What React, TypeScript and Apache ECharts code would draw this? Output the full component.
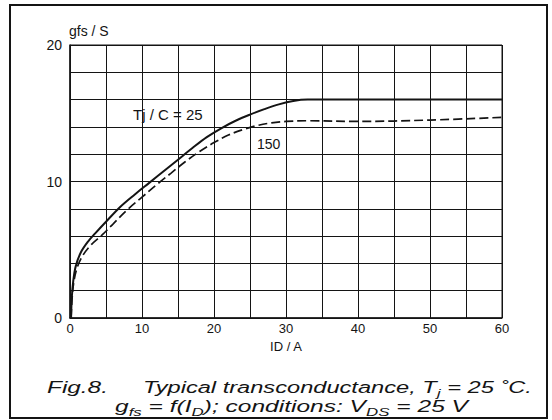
import React, { useEffect, useRef } from "react";
import * as echarts from "echarts";

// Drain current I_D (A) and forward transconductance g_fs (S)
const id25 = [0.15, 0.25, 0.45, 0.8, 1.5, 2.5, 3.5, 5, 7, 9, 11, 13, 15, 17, 19, 21, 23, 25, 27, 29, 31, 33, 36, 45, 60];
const gfs25 = [0, 1.5, 2.7, 3.8, 4.8, 5.6, 6.2, 7.05, 8.15, 9.05, 9.9, 10.75, 11.6, 12.45, 13.25, 13.9, 14.45, 14.9, 15.3, 15.65, 15.9, 16.0, 16.0, 16.0, 16.0];
const id150 = [0.15, 0.3, 0.55, 1.0, 1.8, 3, 4.5, 6, 8, 10, 12, 14, 16, 18, 20, 22, 24, 26, 28, 30, 33, 40, 50, 60];
const gfs150 = [0, 1.5, 2.7, 3.7, 4.6, 5.4, 6.1, 6.9, 7.95, 8.85, 9.75, 10.6, 11.45, 12.2, 12.85, 13.4, 13.8, 14.1, 14.3, 14.4, 14.45, 14.4, 14.5, 14.7];

const xTickLabels = ["0", "10", "20", "30", "40", "50", "60"];
const yTickLabels = ["0", "10", "20"];

const FONT = "Liberation Sans, Arial, Helvetica, sans-serif";
const INK = "#141414";

type Seg = { t: string; sub?: boolean };

const measureCtx = (() => {
  const c = document.createElement("canvas");
  return c.getContext("2d");
})();

function measure(text: string, size: number) {
  if (!measureCtx) return text.length * size * 0.5;
  measureCtx.font = `italic ${size}px "Liberation Sans", Arial, sans-serif`;
  return measureCtx.measureText(text).width;
}

function captionGroup(segs: Seg[], left: number, right: number, y: number) {
  let cursor = 0;
  const children: any[] = [];
  for (const s of segs) {
    const size = s.sub ? 11 : 16;
    children.push({
      type: "text",
      x: cursor,
      y: s.sub ? 6 : 0,
      style: {
        text: s.t,
        fontSize: size,
        fontStyle: "italic",
        fontFamily: FONT,
        fill: INK,
        textAlign: "left",
        textVerticalAlign: "middle",
      },
    });
    cursor += measure(s.t, size);
  }
  return { type: "group", x: left, y, scaleX: (right - left) / cursor, children };
}

export default function App() {
  const ref = useRef<HTMLDivElement>(null);
  useEffect(() => {
    document.body.style.margin = "0";
    if (!ref.current) return;
    const chart = echarts.init(ref.current, null, { renderer: "svg" });
    const zip = (xs: number[], ys: number[]) => xs.map((x, i) => [x, ys[i]]);
    chart.setOption({
      animation: false,
      backgroundColor: "#ffffff",
      grid: { left: 70, right: 50, top: 45, bottom: 102, show: true, borderColor: INK, borderWidth: 1 },
      xAxis: {
        type: "value",
        min: 0,
        max: 60,
        interval: 5,
        axisLine: { show: true, lineStyle: { color: INK, width: 1.5 } },
        axisTick: { show: false },
        splitLine: { show: true, lineStyle: { color: INK, width: 1 } },
        axisLabel: {
          margin: 4,
          fontSize: 13,
          fontFamily: FONT,
          color: INK,
          formatter: (v: number) => (xTickLabels.includes(String(v)) ? String(v) : ""),
        },
      },
      yAxis: {
        type: "value",
        min: 0,
        max: 20,
        interval: 2,
        axisLine: { show: true, lineStyle: { color: INK, width: 1.5 } },
        axisTick: { show: false },
        splitLine: { show: true, lineStyle: { color: INK, width: 1 } },
        axisLabel: {
          margin: 8,
          fontSize: 14,
          fontFamily: FONT,
          color: INK,
          formatter: (v: number) => (yTickLabels.includes(String(v)) ? String(v) : ""),
        },
      },
      series: [
        {
          name: "Tj = 25",
          type: "line",
          data: zip(id25, gfs25),
          showSymbol: false,
          symbol: "none",
          smooth: 0.35,
          lineStyle: { color: INK, width: 2 },
          z: 5,
        },
        {
          name: "Tj = 150",
          type: "line",
          data: zip(id150, gfs150),
          showSymbol: false,
          symbol: "none",
          smooth: 0.35,
          lineStyle: { color: INK, width: 1.7, type: [9, 4] },
          z: 5,
        },
      ],
      graphic: [
        {
          type: "rect",
          shape: { x: 10, y: 5, width: 537, height: 413 },
          style: { fill: "none", stroke: INK, lineWidth: 2 },
          silent: true,
        },
        {
          type: "text",
          x: 69,
          y: 31,
          style: { text: "gfs / S", fontSize: 14, fontFamily: FONT, fill: INK, textAlign: "left", textVerticalAlign: "middle" },
        },
        {
          type: "text",
          x: 286,
          y: 346,
          style: { text: "ID / A", fontSize: 13, fontFamily: FONT, fill: INK, textAlign: "center", textVerticalAlign: "middle" },
        },
        {
          type: "text",
          x: 133,
          y: 114,
          style: { text: "Tj / C = 25", fontSize: 15, fontFamily: FONT, fill: INK, textAlign: "left", textVerticalAlign: "middle" },
          z: 10,
        },
        {
          type: "text",
          x: 257,
          y: 144,
          style: { text: "150", fontSize: 14, fontFamily: FONT, fill: INK, textAlign: "left", textVerticalAlign: "middle" },
          z: 10,
        },
        captionGroup([{ t: "Fig.8." }], 47, 108, 387),
        captionGroup(
          [{ t: "Typical transconductance, T" }, { t: "j", sub: true }, { t: " = 25 ˚C." }],
          143,
          532,
          387
        ),
        captionGroup(
          [
            { t: "g" },
            { t: "fs", sub: true },
            { t: " = f(I" },
            { t: "D", sub: true },
            { t: "); conditions: V" },
            { t: "DS", sub: true },
            { t: " = 25 V" },
          ],
          115,
          468,
          406
        ),
      ],
    });
    return () => chart.dispose();
  }, []);
  return <div ref={ref} style={{ width: 552, height: 420 }} />;
}
